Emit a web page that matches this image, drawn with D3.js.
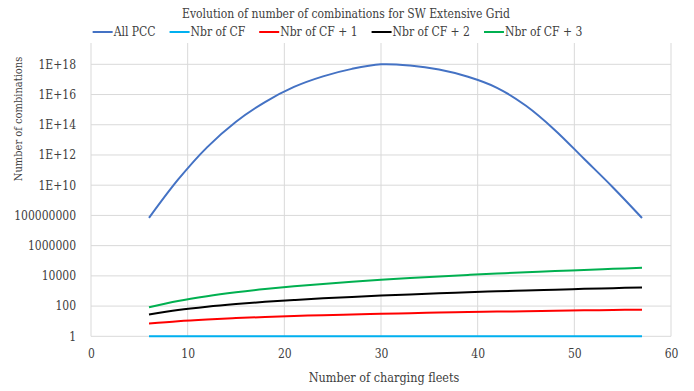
<!DOCTYPE html>
<html>
<head>
<meta charset="utf-8">
<script src="https://cdnjs.cloudflare.com/ajax/libs/d3/7.8.5/d3.min.js"></script>
<style>
  body { margin: 0; background: #fff; }
  .path { fill: none; stroke-width: 2; }
</style>
</head>
<body>
<svg id="visu" width="694" height="391"></svg>
<script>
// number of charging fleets
var fleets = [6, 9, 12, 15, 18, 21, 24, 27, 30, 33, 36, 39, 42, 45, 48, 51, 54, 57];

var allPcc = [6.8e7, 2.3e10, 3.2e12, 1.6e14, 3.2e15, 3.2e16, 1.6e17, 5.0e17, 1.0e18,
              8.3e17, 4.5e17, 1.5e17, 2.8e16, 1.8e15, 4.4e13, 5.6e11, 7.1e9, 6.8e7];
var nbrCf = [1, 1, 1, 1, 1, 1, 1, 1, 1, 1, 1, 1, 1, 1, 1, 1, 1, 1];
var nbrCf1 = [7, 10, 13, 16, 19, 22, 25, 28, 31, 34, 37, 40, 43, 46, 49, 52, 55, 58];
var nbrCf2 = [28, 55, 91, 136, 190, 253, 325, 406, 496, 595, 703, 820, 946, 1081, 1225, 1378, 1540, 1711];
var nbrCf3 = [84, 220, 455, 816, 1330, 2024, 2925, 4060, 5456, 7140, 9139, 11480, 14190, 17296, 20825, 24804, 29260, 34220];

var seriesNames = ["All  PCC", "Nbr of CF", "Nbr of CF + 1", "Nbr of CF + 2", "Nbr of CF + 3"];
var seriesColors = ["#4472C4", "#00B0F0", "#FF0000", "#000000", "#00B050"];
var seriesValues = [allPcc, nbrCf, nbrCf1, nbrCf2, nbrCf3];

var xTicks = [0, 10, 20, 30, 40, 50, 60];
var yTicks = [1, 1e2, 1e4, 1e6, 1e8, 1e10, 1e12, 1e14, 1e16, 1e18];

var FONT = "'DejaVu Serif Condensed', 'DejaVu Serif', serif";

var vis = d3.select("#visu"),
    LEFT = 91, RIGHT = 671, TOP = 43, BOTTOM = 336.3;

var xScale = d3.scaleLinear().domain([0, 60]).range([LEFT, RIGHT]);
var yScale = d3.scaleLog().domain([1, 1e20]).range([BOTTOM, 34.1]);

var fmt = function(v) {
  if (v < 1e9) return String(Math.round(v));
  return "1E+" + Math.round(Math.log10(v));
};

var styleText = function(sel, size) {
  return sel.style("font-family", FONT)
    .style("font-stretch", "condensed")
    .style("font-size", size + "px")
    .attr("fill", "#404040");
};

// gridlines
vis.append("g").selectAll("line").data(yTicks).enter().append("line")
  .attr("x1", LEFT).attr("x2", RIGHT)
  .attr("y1", function(d) { return yScale(d); })
  .attr("y2", function(d) { return yScale(d); })
  .attr("stroke", "#d9d9d9").attr("stroke-width", 1);

vis.append("g").selectAll("line").data(xTicks).enter().append("line")
  .attr("x1", function(d) { return xScale(d); })
  .attr("x2", function(d) { return xScale(d); })
  .attr("y1", TOP).attr("y2", BOTTOM)
  .attr("stroke", "#d9d9d9").attr("stroke-width", 1);

// axes (labels only, Excel style)
var xAxis = d3.axisBottom(xScale).tickValues(xTicks).tickSize(0).tickPadding(13);
var yAxis = d3.axisLeft(yScale).tickValues(yTicks).tickFormat(fmt).tickSize(0).tickPadding(15);

var gx = vis.append("g").attr("transform", "translate(0," + BOTTOM + ")").call(xAxis);
var gy = vis.append("g").attr("transform", "translate(" + LEFT + ",0)").call(yAxis);
[gx, gy].forEach(function(g) {
  g.attr("font-family", null).attr("font-size", null);
  g.select(".domain").remove();
  styleText(g.selectAll("text"), 12);
});

// lines
var lineGen = function(vals) {
  return d3.line()
    .x(function(d, i) { return xScale(fleets[i]); })
    .y(function(d) { return yScale(d); })
    .curve(d3.curveCatmullRom.alpha(0.5))(vals);
};

seriesValues.forEach(function(vals, i) {
  vis.append("path")
    .attr("class", "path")
    .attr("d", lineGen(vals))
    .attr("stroke", seriesColors[i]);
});

// title
styleText(vis.append("text"), 12)
  .attr("x", 346).attr("y", 18)
  .attr("text-anchor", "middle")
  .text("Evolution of number of combinations for SW Extensive Grid");

// legend
var legend = vis.append("g");
var lx = 0;
seriesNames.forEach(function(name, i) {
  var item = legend.append("g").attr("transform", "translate(" + lx + ",0)");
  item.append("line").attr("x1", 0).attr("x2", 20).attr("y1", 0).attr("y2", 0)
    .attr("stroke", seriesColors[i]).attr("stroke-width", 2);
  var t = styleText(item.append("text"), 12).attr("x", 21).attr("y", 4.2).text(name);
  lx += 21 + t.node().getComputedTextLength() + 14;
});
lx -= 14;
legend.attr("transform", "translate(" + (337.5 - lx / 2) + ",32)");

// axis titles
styleText(vis.append("text"), 12.5)
  .attr("x", 384).attr("y", 382)
  .attr("text-anchor", "middle")
  .text("Number of charging fleets");

styleText(vis.append("text"), 11)
  .attr("transform", "translate(22,119) rotate(-90)")
  .attr("text-anchor", "middle")
  .text("Number of combinations");
</script>
</body>
</html>
